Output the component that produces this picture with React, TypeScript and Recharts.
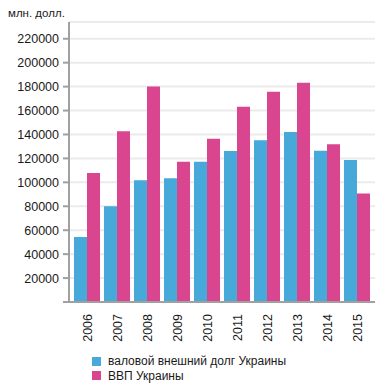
import React from 'react';
import { BarChart, Bar, XAxis, YAxis, CartesianGrid } from 'recharts';

const years = ['2006', '2007', '2008', '2009', '2010', '2011', '2012', '2013', '2014', '2015'];
const debt = [54300, 80000, 101700, 103400, 117300, 126200, 135100, 142100, 126300, 118700];
const gdp = [107800, 142700, 180000, 117200, 136400, 163200, 175800, 183300, 131800, 90600];
const yTicks = [0, 20000, 40000, 60000, 80000, 100000, 120000, 140000, 160000, 180000, 200000, 220000];

const BLUE = '#46a9da';
const PINK = '#d9468f';
const FONT = '"Liberation Sans", Arial, sans-serif';

const data = years.map((y, i) => ({ year: y, debt: debt[i], gdp: gdp[i] }));

const YTick = (props: any) => {
  const { x, y, payload } = props;
  if (payload.value === 0) return <g />;
  return (
    <text x={x - 2} y={y} dy="0.36em" textAnchor="end" fontSize={12.5} fill="#1a1a1a" fontFamily={FONT}>
      {payload.value}
    </text>
  );
};

const XTick = (props: any) => {
  const { x, y, payload } = props;
  return (
    <g transform={`translate(${x},${y + 4})`}>
      <text transform="rotate(-90)" textAnchor="end" dy="0.36em" fontSize={12.5} fill="#1a1a1a" fontFamily={FONT}>
        {payload.value}
      </text>
    </g>
  );
};

export default function App() {
  return (
    <div style={{ position: 'absolute', left: 0, top: 0, width: 390, height: 389, background: '#fff', fontFamily: FONT }}>
      <div style={{ position: 'absolute', left: 8, top: 7, fontSize: 11.5, color: '#1a1a1a' }}>млн. долл.</div>
      <BarChart
        width={390}
        height={389}
        data={data}
        margin={{ top: 22, right: 15, bottom: 0, left: 0 }}
        barCategoryGap={2}
        barGap={0}
      >
        <CartesianGrid vertical={false} stroke="#ebebeb" strokeWidth={2} />
        <YAxis
          width={69}
          domain={[0, 234000]}
          ticks={yTicks}
          interval={0}
          axisLine={{ stroke: '#a0a0a0', strokeWidth: 2 }}
          tickLine={{ stroke: '#a0a0a0', strokeWidth: 2 }}
          tickSize={6}
          tick={<YTick />}
        />
        <XAxis
          dataKey="year"
          height={87}
          interval={0}
          padding={{ left: 3, right: 3 }}
          axisLine={{ stroke: '#a0a0a0', strokeWidth: 2 }}
          tickLine={false}
          tick={<XTick />}
        />
        <Bar dataKey="debt" fill={BLUE} isAnimationActive={false} />
        <Bar dataKey="gdp" fill={PINK} isAnimationActive={false} />
      </BarChart>
      <div style={{ position: 'absolute', left: 92, top: 354, fontSize: 12, color: '#1a1a1a', lineHeight: '14.5px' }}>
        <div style={{ display: 'flex', alignItems: 'center' }}>
          <span style={{ width: 9, height: 9, background: BLUE, marginRight: 7, display: 'inline-block' }} />
          валовой внешний долг Украины
        </div>
        <div style={{ display: 'flex', alignItems: 'center' }}>
          <span style={{ width: 9, height: 9, background: PINK, marginRight: 7, display: 'inline-block' }} />
          ВВП Украины
        </div>
      </div>
    </div>
  );
}
